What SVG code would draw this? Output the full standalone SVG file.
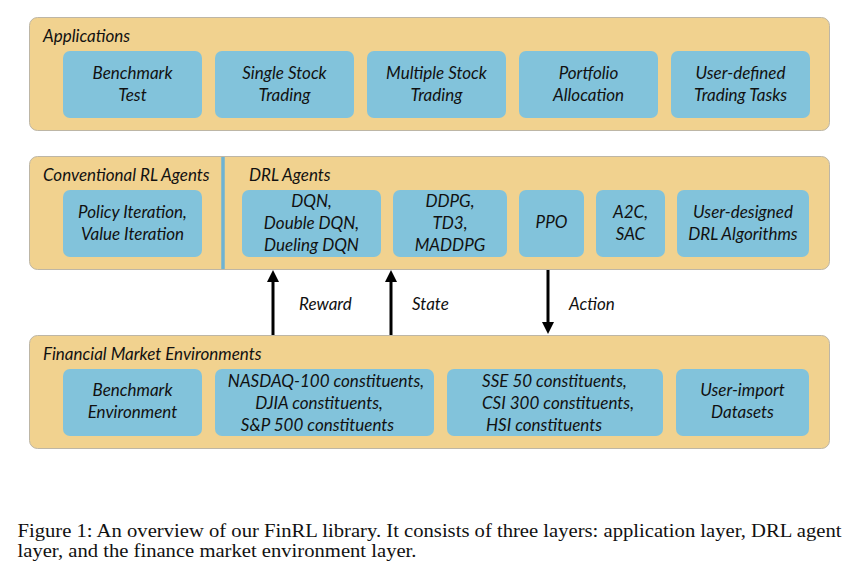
<svg xmlns="http://www.w3.org/2000/svg" width="851" height="582" viewBox="0 0 851 582">
<style>
.panel{fill:#f1d28f;stroke:#bdb6a6;stroke-width:1}
.box{fill:#82c3db}
.t{font-family:Lato,"Liberation Sans",sans-serif;font-style:italic;font-size:17px;fill:#111}
.c{text-anchor:middle}
.cap{font-family:"Liberation Serif","Times New Roman",serif;font-size:19.5px;fill:#111}
.arr{stroke:#000;stroke-width:3;fill:none}
</style>
<defs>
<marker id="ah" markerWidth="4" markerHeight="4" refX="2" refY="2" orient="auto" markerUnits="strokeWidth">
<path d="M0,0 L4,2 L0,4 Z" fill="#000"/>
</marker>
</defs>
<rect width="851" height="582" fill="#fff"/>

<g id="applications">
<rect class="panel" x="29.5" y="17.5" width="800" height="113" rx="8"/>
<text class="t" x="43" y="42">Applications</text>
</g>
<g id="app-benchmark"><rect class="box" x="63" y="51" width="139" height="67" rx="7"/><text class="t c" x="132.5" y="79">Benchmark</text><text class="t c" x="132.5" y="101">Test</text></g>
<g id="app-single"><rect class="box" x="215" y="51" width="139" height="67" rx="7"/><text class="t c" x="284.5" y="79">Single Stock</text><text class="t c" x="284.5" y="101">Trading</text></g>
<g id="app-multiple"><rect class="box" x="367" y="51" width="139" height="67" rx="7"/><text class="t c" x="436.5" y="79">Multiple Stock</text><text class="t c" x="436.5" y="101">Trading</text></g>
<g id="app-portfolio"><rect class="box" x="519" y="51" width="139" height="67" rx="7"/><text class="t c" x="588.5" y="79">Portfolio</text><text class="t c" x="588.5" y="101">Allocation</text></g>
<g id="app-user"><rect class="box" x="671" y="51" width="139" height="67" rx="7"/><text class="t c" x="740.5" y="79">User-defined</text><text class="t c" x="740.5" y="101">Trading Tasks</text></g>

<g id="agents">
<rect class="panel" x="29.5" y="156.5" width="800" height="113" rx="8"/>
<line x1="223" y1="157" x2="223" y2="269" stroke="#6eb3d3" stroke-width="3.5"/>
<text class="t" x="43" y="181">Conventional RL Agents</text>
<text class="t" x="249" y="181">DRL Agents</text>
</g>
<g id="ag-policy"><rect class="box" x="63" y="190" width="139" height="67" rx="7"/><text class="t c" x="132.5" y="218">Policy Iteration,</text><text class="t c" x="132.5" y="240">Value Iteration</text></g>
<g id="ag-dqn"><rect class="box" x="242" y="190" width="139" height="67" rx="7"/><text class="t c" x="311.5" y="207">DQN,</text><text class="t c" x="311.5" y="229">Double DQN,</text><text class="t c" x="311.5" y="251">Dueling DQN</text></g>
<g id="ag-ddpg"><rect class="box" x="393" y="190" width="114" height="67" rx="7"/><text class="t c" x="450" y="207">DDPG,</text><text class="t c" x="450" y="229">TD3,</text><text class="t c" x="450" y="251">MADDPG</text></g>
<g id="ag-ppo"><rect class="box" x="519" y="190" width="65" height="67" rx="7"/><text class="t c" x="551.5" y="228">PPO</text></g>
<g id="ag-a2c"><rect class="box" x="596" y="190" width="69" height="67" rx="7"/><text class="t c" x="630.5" y="218">A2C,</text><text class="t c" x="630.5" y="240">SAC</text></g>
<g id="ag-user"><rect class="box" x="677" y="190" width="132" height="67" rx="7"/><text class="t c" x="743" y="218">User-designed</text><text class="t c" x="743" y="240">DRL Algorithms</text></g>

<g id="environments">
<rect class="panel" x="29.5" y="335.5" width="800" height="113" rx="8"/>
<text class="t" x="43" y="360">Financial Market Environments</text>
</g>
<g id="env-benchmark"><rect class="box" x="63" y="369" width="139" height="67" rx="7"/><text class="t c" x="132.5" y="396">Benchmark</text><text class="t c" x="132.5" y="418">Environment</text></g>
<g id="env-us"><rect class="box" x="215" y="369" width="219" height="67" rx="7"/><text class="t c" x="326" y="387">NASDAQ-100 constituents,</text><text class="t c" x="319" y="409">DJIA constituents,</text><text class="t c" x="317.5" y="431">S&amp;P 500 constituents</text></g>
<g id="env-cn"><rect class="box" x="447" y="369" width="216" height="67" rx="7"/><text class="t" x="482" y="387">SSE 50 constituents,</text><text class="t" x="482" y="409">CSI 300 constituents,</text><text class="t" x="486" y="431">HSI constituents</text></g>
<g id="env-user"><rect class="box" x="676" y="369" width="133" height="67" rx="7"/><text class="t c" x="742.5" y="396">User-import</text><text class="t c" x="742.5" y="418">Datasets</text></g>

<g id="connectors">
<line class="arr" x1="273" y1="335" x2="273" y2="276" marker-end="url(#ah)"/>
<line class="arr" x1="391" y1="335" x2="391" y2="276" marker-end="url(#ah)"/>
<line class="arr" x1="548" y1="270" x2="548" y2="328" marker-end="url(#ah)"/>
<text class="t" x="299" y="310">Reward</text>
<text class="t" x="412" y="310">State</text>
<text class="t" x="569" y="310">Action</text>
</g>

<text class="cap" x="17.5" y="537" textLength="824" lengthAdjust="spacingAndGlyphs">Figure 1: An overview of our FinRL library. It consists of three layers: application layer, DRL agent</text>
<text class="cap" x="17.5" y="557" textLength="399" lengthAdjust="spacingAndGlyphs">layer, and the finance market environment layer.</text>
</svg>
